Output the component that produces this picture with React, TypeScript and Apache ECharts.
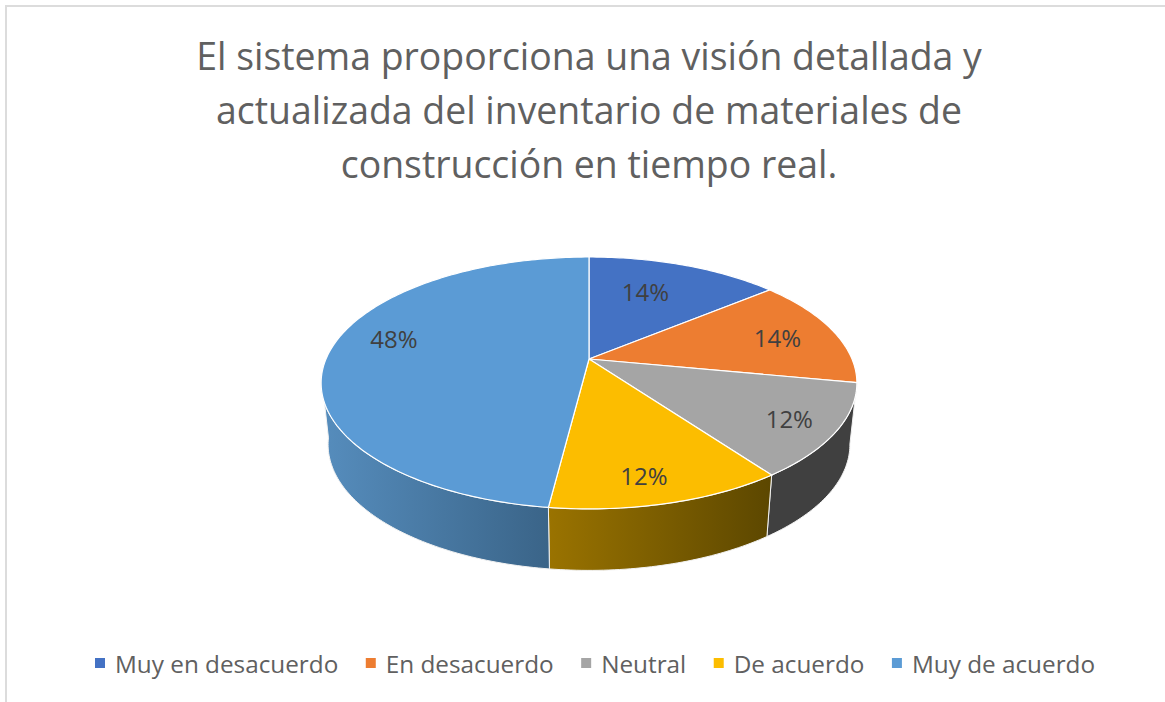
import React, { useEffect, useRef } from "react";
import * as echarts from "echarts";

const titleLines = [
  "El sistema proporciona una visión detallada y",
  "actualizada del inventario de materiales de",
  "construcción en tiempo real.",
];
const categories = ["Muy en desacuerdo", "En desacuerdo", "Neutral", "De acuerdo", "Muy de acuerdo"];
const values = [14, 14, 12, 12, 48];
const topColors = ["#4472c4", "#ed7d31", "#a5a5a5", "#fcbd00", "#5b9bd5"];

// side wall appearance per slice [left, right] colour; null = wall hidden
const sideColors: ([string, string] | null)[] = [
  null,
  null,
  ["#404040", "#404040"],
  ["#9a7300", "#5c4700"],
  ["#3a6488", "#568dbd"],
];
// label nudges relative to the default label anchor of each slice
const labelNudges = [
  [-18, 5],
  [4, 0],
  [20, 7],
  [-2, 14],
  [0, -15],
];

const FONT = "'Open Sans', sans-serif";
const TEXT = "#606060";

// Perspective projection of the pie disc
const CX = 589;
const CY = 359;
const A = 263;
const B = 121.4;
const K = 0.19;
const LOWER_SX = 0.974;
const LOWER_SY = 1.0;
const LOWER_DY = 61.5;
const WALL_END = 262; // degrees clockwise from the top where the left silhouette lies

const total = values.reduce((a, b) => a + b, 0);

function project(deg: number, r = 1): [number, number] {
  const t = (deg * Math.PI) / 180;
  const x = r * Math.sin(t);
  const y = r * Math.cos(t);
  const w = 1 + K * y;
  return [(A * x) / w, (-B * y) / w];
}
const upper = (deg: number): [number, number] => {
  const [x, y] = project(deg);
  return [CX + x, CY + y];
};
const lower = (deg: number): [number, number] => {
  const [x, y] = project(deg);
  return [CX + x * LOWER_SX, CY + y * LOWER_SY + LOWER_DY];
};
function sweep(a0: number, a1: number, fn: (d: number) => [number, number]) {
  const n = Math.max(2, Math.ceil(Math.abs(a1 - a0)));
  const pts: [number, number][] = [];
  for (let i = 0; i <= n; i++) pts.push(fn(a0 + ((a1 - a0) * i) / n));
  return pts;
}

function makeSeries(index: number) {
  const before = values.slice(0, index).reduce((a, b) => a + b, 0);
  return {
    type: "custom",
    name: categories[index],
    coordinateSystem: "none",
    silent: true,
    itemStyle: { color: topColors[index] },
    data: [[values[index]]],
    renderItem: (_p: any, api: any) => {
      const v = api.value(0) as number;
      const a0 = (before / total) * 360;
      const a1 = ((before + v) / total) * 360;
      const children: any[] = [];
      const side = sideColors[index];
      if (side) {
        const wallEnd = Math.min(a1, WALL_END);
        children.push({
          type: "polygon",
          z2: 1,
          shape: { points: [...sweep(a0, wallEnd, upper), ...sweep(wallEnd, a0, lower)] },
          style: {
            fill: new echarts.graphic.LinearGradient(0, 0, 1, 0, [
              { offset: 0, color: index === 4 ? side[1] : side[0] },
              { offset: 1, color: index === 4 ? side[0] : side[1] },
            ]),
            stroke: "#f2f2f2",
            lineWidth: 1,
          },
        });
      }
      children.push({
        type: "polygon",
        z2: 2,
        shape: { points: [[CX, CY], ...sweep(a0, a1, upper)] },
        style: { fill: topColors[index], stroke: "#ffffff", lineWidth: 1.2 },
      });
      const [lx, ly] = project((a0 + a1) / 2, 0.75);
      children.push({
        type: "text",
        z2: 3,
        x: CX + lx + labelNudges[index][0],
        y: CY + ly + labelNudges[index][1],
        style: {
          text: `${Math.round((v / total) * 100)}%`,
          fill: "#404040",
          fontSize: 24,
          fontFamily: FONT,
          align: "center",
          verticalAlign: "middle",
        },
      });
      return { type: "group", children };
    },
  };
}

export default function App() {
  const ref = useRef<HTMLDivElement>(null);
  useEffect(() => {
    const chart = echarts.init(ref.current!, null, { renderer: "svg" });
    chart.setOption({
      animation: false,
      backgroundColor: "#ffffff",
      title: {
        text: titleLines.join("\n"),
        left: 584,
        top: 23,
        textAlign: "center",
        textStyle: {
          color: TEXT,
          fontFamily: FONT,
          fontSize: 37.4,
          fontWeight: "normal",
          lineHeight: 54,
        },
      },
      legend: {
        data: categories,
        left: 90,
        top: 646,
        icon: "rect",
        itemWidth: 10,
        itemHeight: 10,
        itemGap: 27.5,
        textStyle: { color: TEXT, fontFamily: FONT, fontSize: 24.3, padding: [0, 0, 0, 5] },
      },
      graphic: [
        { type: "rect", shape: { x: 5, y: 5, width: 1160, height: 2 }, style: { fill: "#dcdcdc" } },
        { type: "rect", shape: { x: 5, y: 5, width: 2, height: 697 }, style: { fill: "#dcdcdc" } },
      ],
      series: categories.map((_, i) => makeSeries(i)),
    });
    return () => chart.dispose();
  }, []);
  return <div ref={ref} style={{ position: "absolute", left: 0, top: 0, width: 1165, height: 702 }} />;
}
